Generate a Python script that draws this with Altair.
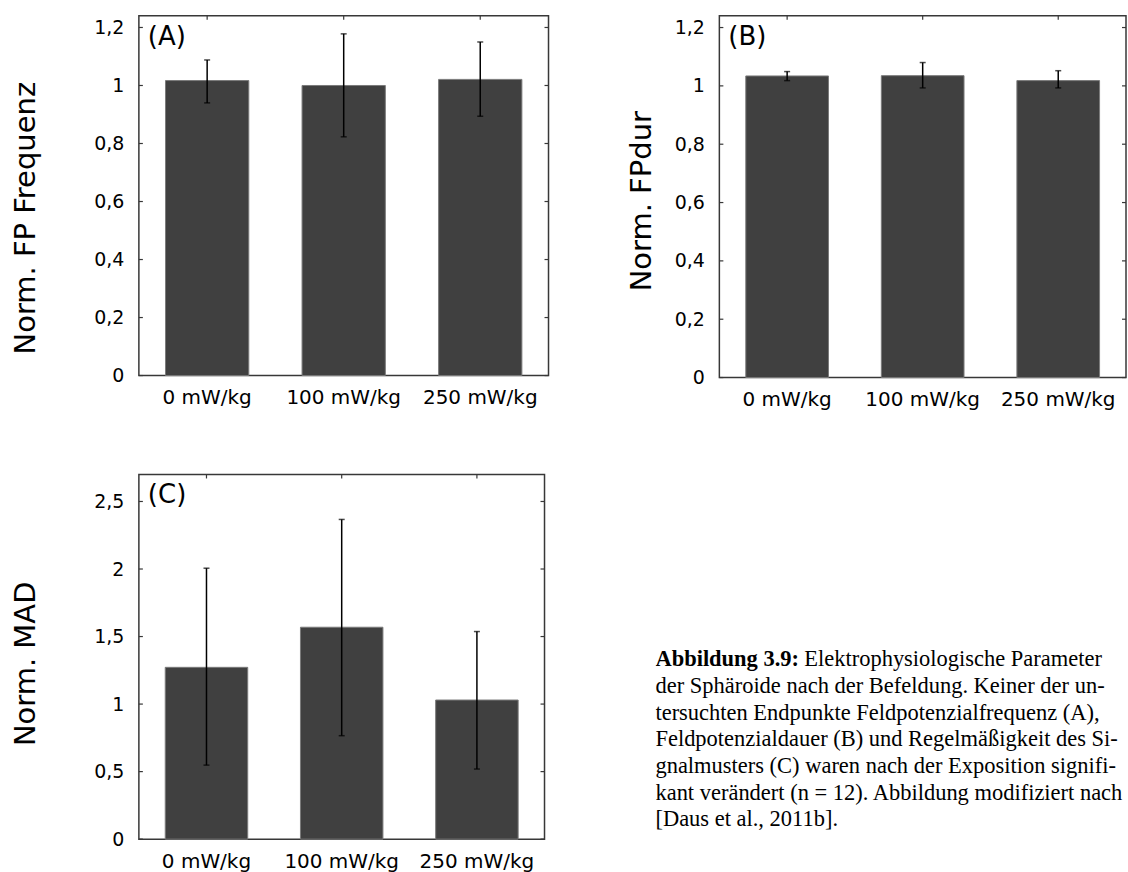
import altair as alt
import pandas as pd

# ---------------- data ----------------
categories = ["0 mW/kg", "100 mW/kg", "250 mW/kg"]

freq_mean = [1.017, 1.000, 1.021]
freq_lo = [0.940, 0.823, 0.894]
freq_hi = [1.088, 1.178, 1.150]

dur_mean = [1.034, 1.035, 1.018]
dur_lo = [1.018, 0.993, 0.993]
dur_hi = [1.049, 1.080, 1.052]

mad_mean = [1.272, 1.569, 1.030]
mad_lo = [0.548, 0.766, 0.519]
mad_hi = [2.006, 2.367, 1.537]

ticks_ab = [0, 0.2, 0.4, 0.6, 0.8, 1, 1.2]
ticks_c = [0, 0.5, 1, 1.5, 2, 2.5]

caption_bold = "Abbildung 3.9:"
caption_first = "Elektrophysiologische Parameter"
caption_lines = [
    "der Sphäroide nach der Befeldung. Keiner der un-",
    "tersuchten Endpunkte Feldpotenzialfrequenz (A),",
    "Feldpotenzialdauer (B) und Regelmäßigkeit des Si-",
    "gnalmusters (C) waren nach der Exposition signifi-",
    "kant verändert (n = 12). Abbildung modifiziert nach",
    "[Daus et al., 2011b].",
]

FONT = "DejaVu Sans"
SERIF = "Liberation Serif"
FRAME = "#383838"
BAR = "#404040"


def panel(mean, lo, hi, ticks, ymax, title, tag, width, height, title_pad, title_y):
    df = pd.DataFrame({"cat": categories, "mean": mean, "lo": lo, "hi": hi})
    tdf = pd.DataFrame({"tick": ticks})
    tagdf = pd.DataFrame({"tag": [tag]})

    xscale = alt.Scale(paddingInner=0.39, paddingOuter=0.195)
    yscale = alt.Scale(domain=[0, ymax], nice=False, zero=True)
    xenc = alt.X(
        "cat:N", sort=categories, scale=xscale, title=None,
        axis=alt.Axis(labelAngle=0, tickSize=0, domain=False, grid=False,
                      labelPadding=12, labelFontSize=20, labelFont=FONT,
                      labelColor="black"),
    )
    yaxis = alt.Axis(values=ticks, format="~g",
                     labelExpr="replace(datum.label, '.', ',')",
                     titleFontSize=29, titleFont=FONT,
                     titleFontWeight="normal", titleColor="black",
                     titlePadding=title_pad, titleY=title_y,
                     labelPadding=15, tickSize=0,
                     domain=False, grid=False, labelFontSize=19,
                     labelFont=FONT, labelColor="black")

    base = alt.Chart(df)
    bars = base.mark_bar(color=BAR, stroke="#7a7a7a", strokeWidth=1).encode(
        x=xenc, y=alt.Y("mean:Q", scale=yscale, title=title, axis=yaxis))
    err = base.mark_rule(color="black", strokeWidth=1.5).encode(
        x=xenc, y=alt.Y("lo:Q", title=title, axis=yaxis), y2="hi:Q")
    cap_lo = base.mark_tick(color="black", size=6, thickness=1.5).encode(
        x=xenc, y=alt.Y("lo:Q", title=title, axis=yaxis))
    cap_hi = base.mark_tick(color="black", size=6, thickness=1.5).encode(
        x=xenc, y=alt.Y("hi:Q", title=title, axis=yaxis))
    top_ticks = base.mark_rule(color=FRAME, strokeWidth=1.2).encode(
        x=xenc, y=alt.value(0), y2=alt.value(4))
    left_ticks = alt.Chart(tdf).mark_rule(color=FRAME, strokeWidth=1.2).encode(
        y=alt.Y("tick:Q", title=title, axis=yaxis), x=alt.value(0), x2=alt.value(4))
    right_ticks = alt.Chart(tdf).mark_rule(color=FRAME, strokeWidth=1.2).encode(
        y=alt.Y("tick:Q", title=title, axis=yaxis), x=alt.value(width - 4),
        x2=alt.value(width))
    label = alt.Chart(tagdf).mark_text(
        align="left", baseline="top", fontSize=26, font=FONT, color="black"
    ).encode(x=alt.value(9), y=alt.value(8), text="tag:N")

    return alt.layer(bars, err, cap_lo, cap_hi, top_ticks, left_ticks,
                     right_ticks, label).properties(width=width, height=height)


pA = panel(freq_mean, freq_lo, freq_hi, ticks_ab, 1.24,
           "Norm. FP Frequenz", "(A)", 410, 360, 53, 202)
pB = panel(dur_mean, dur_lo, dur_hi, ticks_ab, 1.24,
           "Norm. FPdur", "(B)", 407, 362, 18, 185)
pC = panel(mad_mean, mad_lo, mad_hi, ticks_c, 2.7,
           "Norm. MAD", "(C)", 406, 365, 53, 189)

# ---------------- caption ----------------
cap_first_df = pd.DataFrame({"idx": [0], "bold": [caption_bold], "rest": [caption_first]})
cap_df = pd.DataFrame({"idx": list(range(1, len(caption_lines) + 1)), "text": caption_lines})
yscale_cap = alt.Scale(domain=[0, 6], range=[192, 352])

cap_bold = alt.Chart(cap_first_df).mark_text(
    align="left", baseline="alphabetic", font=SERIF, fontSize=22.5,
    fontWeight="bold", color="black", clip=True
).encode(x=alt.value(0), y=alt.Y("idx:Q", scale=yscale_cap, axis=None), text="bold:N")
cap_rest = alt.Chart(cap_first_df).mark_text(
    align="left", baseline="alphabetic", font=SERIF, fontSize=22.5,
    color="black", clip=True
).encode(x=alt.value(149), y=alt.Y("idx:Q", scale=yscale_cap, axis=None), text="rest:N")
cap_body = alt.Chart(cap_df).mark_text(
    align="left", baseline="alphabetic", font=SERIF, fontSize=22.5,
    color="black", clip=True
).encode(x=alt.value(0), y=alt.Y("idx:Q", scale=yscale_cap, axis=None), text="text:N")

caption = alt.layer(cap_bold, cap_rest, cap_body).properties(
    width=471, height=365,
    view=alt.ViewBackground(strokeOpacity=0, strokeWidth=0),
)

row1 = alt.hconcat(pA, pB, spacing=171, bounds="flush")
row2 = alt.hconcat(pC, caption, spacing=111, bounds="flush")

chart = alt.vconcat(row1, row2, spacing=62).properties(
    padding={"left": 11, "top": 13.5, "right": 0, "bottom": 0},
    background="white",
).configure_view(stroke=FRAME, strokeWidth=1.5)

chart.save("out.html", embed_options={"renderer": "svg", "actions": False})
